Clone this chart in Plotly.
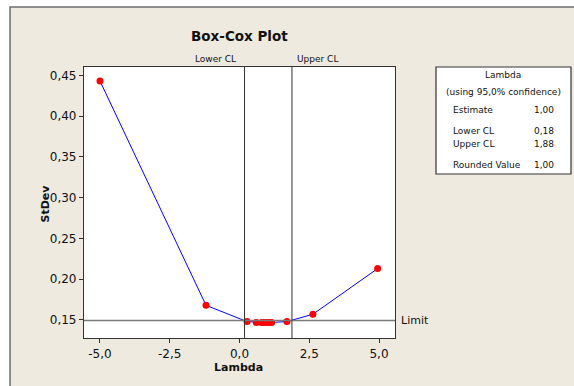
import plotly.graph_objects as go

lam = [-5.0, -1.2, 0.27, 0.6, 0.8, 0.9, 1.0, 1.1, 1.15, 1.7, 2.63, 4.95]
stdev = [0.443, 0.168, 0.148, 0.147, 0.147, 0.147, 0.147, 0.147, 0.147, 0.148, 0.157, 0.213]
limit = 0.1495
lower_cl = 0.18
upper_cl = 1.88
x_ticks = [-5.0, -2.5, 0.0, 2.5, 5.0]
x_tick_labels = ["-5,0", "-2,5", "0,0", "2,5", "5,0"]
y_ticks = [0.15, 0.20, 0.25, 0.30, 0.35, 0.40, 0.45]
y_tick_labels = ["0,15", "0,20", "0,25", "0,30", "0,35", "0,40", "0,45"]
info_rows = [("Estimate", "1,00"), ("Lower CL", "0,18"), ("Upper CL", "1,88"), ("Rounded Value", "1,00")]

W, H = 574, 386
L, R, T, B = 84, 395, 67, 338
FONT = "DejaVu Sans"

def px(x):
    return (x - L) / (R - L)

def py(y):
    return (B - y) / (B - T)

fig = go.Figure()
fig.add_trace(go.Scatter(x=lam, y=stdev, mode="lines+markers",
                         line=dict(color="#0000FF", width=1),
                         marker=dict(color="#FF0000", size=7),
                         showlegend=False, cliponaxis=False))

shapes = []
# outer panel
shapes.append(dict(type="rect", xref="paper", yref="paper", x0=px(10), x1=px(590), y0=py(7), y1=py(400),
                   fillcolor="#EEEAE0", line=dict(color="#6E6E6E", width=1.5), layer="below"))
# plot area white
shapes.append(dict(type="rect", xref="paper", yref="paper", x0=0, x1=1, y0=0, y1=1,
                   fillcolor="white", line=dict(width=0), layer="below"))
# limit line
shapes.append(dict(type="line", xref="paper", yref="y", x0=0, x1=1, y0=limit, y1=limit,
                   line=dict(color="#7A7A7A", width=1.5)))
# CL lines
for v in (lower_cl, upper_cl):
    shapes.append(dict(type="line", xref="x", yref="paper", x0=v, x1=v, y0=0, y1=1,
                       line=dict(color="#333333", width=1)))
# info box
shapes.append(dict(type="rect", xref="paper", yref="paper", x0=px(436), x1=px(571), y0=py(67), y1=py(174),
                   fillcolor="white", line=dict(color="#333333", width=1.2)))

ann = []
def text(x, y, s, size=10, xanchor="center", bold=False, yanchor="middle"):
    ann.append(dict(xref="paper", yref="paper", x=px(x), y=py(y), text=(f"<b>{s}</b>" if bold else s),
                    showarrow=False, xanchor=xanchor, yanchor=yanchor,
                    font=dict(family=FONT, size=size, color="#111111")))

text(239, 36, "Box-Cox Plot", size=13.5, bold=True)
text(238, 59, "Lower CL", size=9, xanchor="right")
text(295, 59, "Upper CL", size=9, xanchor="left")
text(399, 320, "Limit", size=11, xanchor="left")
text(238, 367, "Lambda", size=11, bold=True)
ann.append(dict(xref="paper", yref="paper", x=px(36), y=py(203), text="<b>StDev</b>", textangle=-90,
                showarrow=False, font=dict(family=FONT, size=11, color="#111111")))
text(503, 75, "Lambda", size=9)
text(503, 92, "(using 95,0% confidence)", size=9)
row_y = [110, 131, 144, 165]
for (lab, val), yy in zip(info_rows, row_y):
    text(451, yy, lab, size=9, xanchor="left")
    text(556, yy, val, size=9, xanchor="right")

fig.update_layout(
    width=W, height=H,
    margin=dict(l=L, r=W - R, t=T, b=H - B, pad=0),
    paper_bgcolor="white", plot_bgcolor="rgba(0,0,0,0)",
    separators=",.",
    shapes=shapes, annotations=ann,
    font=dict(family=FONT, size=12, color="#111111"),
)
fig.update_xaxes(range=[-5.573, 5.573], tickvals=x_ticks, ticktext=x_tick_labels,
                 showgrid=False, zeroline=False, showline=True, mirror=True,
                 linecolor="#333333", linewidth=1.2, ticks="outside", ticklen=4,
                 tickcolor="#333333", tickfont=dict(size=12, family=FONT))
fig.update_yaxes(range=[0.1279, 0.4602], tickvals=y_ticks, ticktext=y_tick_labels,
                 showgrid=False, zeroline=False, showline=True, mirror=True,
                 linecolor="#333333", linewidth=1.2, ticks="outside", ticklen=4,
                 tickcolor="#333333", tickfont=dict(size=12, family=FONT))

fig.write_html("out.html", config={"displayModeBar": False},
               post_script="document.body.style.margin='0';")
